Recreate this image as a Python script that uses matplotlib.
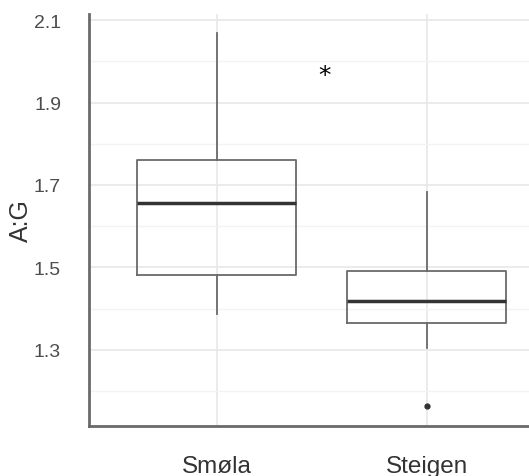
import matplotlib
matplotlib.use('Agg')
import matplotlib.pyplot as plt
import numpy as np

#box statistics
sites = ['Smøla', 'Steigen']
q1 = [1.481, 1.365]
med = [1.656, 1.418]
q3 = [1.761, 1.491]
whislo = [1.388, 1.304]
whishi = [2.068, 1.683]
outliers = [[], [1.163]]

#significance marker
star_x = 0.514
star_y = 1.966

plt.rcParams['font.family'] = ['Liberation Sans', 'DejaVu Sans']

fig = plt.figure(figsize=(5.29, 4.77), dpi=100)
ax = fig.add_axes([0.168, 0.1048, 0.832, 0.8638])

stats = []
for i in range(len(sites)):
    stats.append({'label': sites[i], 'q1': q1[i], 'med': med[i], 'q3': q3[i],
                  'whislo': whislo[i], 'whishi': whishi[i], 'fliers': outliers[i]})

pos = np.arange(len(sites))
ax.bxp(stats, positions=pos, widths=0.757, showcaps=False, zorder=3,
       boxprops=dict(color='#6a6a6a', linewidth=1.3),
       whiskerprops=dict(color='#6a6a6a', linewidth=1.3),
       medianprops=dict(color='#333333', linewidth=2.5),
       flierprops=dict(marker='o', markersize=3.5, markerfacecolor='#333333',
                       markeredgecolor='#333333'))

ax.text(star_x, star_y, '*', fontsize=18, ha='center', va='center',
        color='black', family='DejaVu Sans')

ax.set_xlim(-0.61, 1.486)
ax.set_ylim(1.115, 2.115)

#major and minor grid
ax.set_yticks([1.3, 1.5, 1.7, 1.9, 2.1])
ax.set_yticks([1.2, 1.4, 1.6, 1.8, 2.0], minor=True)
ax.set_yticklabels(['1.3', '1.5', '1.7', '1.9', '2.1'])
ax.set_xticks(pos)
ax.set_xticklabels(sites)
ax.set_axisbelow(True)
ax.grid(which='major', color='#e8e8e8', linewidth=1.2)
ax.grid(which='minor', axis='y', color='#f3f3f3', linewidth=1.0)

ax.tick_params(axis='both', which='both', length=0)
ax.tick_params(axis='y', pad=20, labelsize=14, labelcolor='#4d4d4d')
ax.tick_params(axis='x', pad=21, labelsize=17.5, labelcolor='#333333')

ax.set_ylabel('A:G', fontsize=18, color='#333333')
ax.yaxis.set_label_coords(-0.127, 0.5)

for side in ['top', 'right']:
    ax.spines[side].set_visible(False)
for side in ['left', 'bottom']:
    ax.spines[side].set_color('#6a6a6a')
    ax.spines[side].set_linewidth(2)

fig.savefig('out.png', dpi=100)
